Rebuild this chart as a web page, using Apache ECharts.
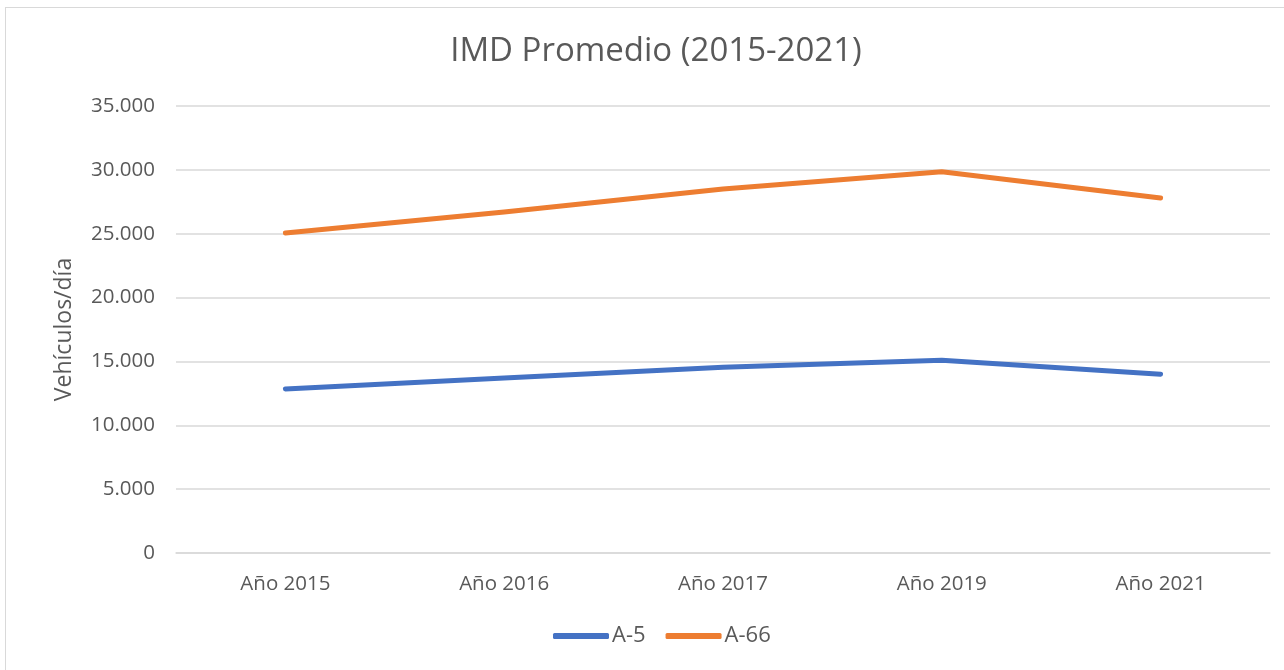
<!DOCTYPE html>
<html>
<head>
<meta charset="utf-8">
<script src="https://cdn.jsdelivr.net/npm/echarts@6/dist/echarts.min.js"></script>
<style>
  html, body { margin: 0; padding: 0; background: #fff; }
  #frame { position: absolute; left: 5px; top: 7px; width: 1290px; height: 680px; border: 1px solid #d9d9d9; box-sizing: border-box; }
  #chart { position: absolute; left: 0; top: 0; width: 1284px; height: 670px; }
</style>
</head>
<body>
<div id="frame"></div>
<div id="chart"></div>
<script>
const categories = ['Año 2015', 'Año 2016', 'Año 2017', 'Año 2019', 'Año 2021'];
const seriesA5 = [12850, 13700, 14550, 15100, 14000];
const seriesA66 = [25050, 26700, 28500, 29850, 27800];
const yTicks = [0, 5000, 10000, 15000, 20000, 25000, 30000, 35000];

const font = '"Open Sans", "Liberation Sans", sans-serif';
const fmt = (v) => v === 0 ? '0' : String(v).replace(/\B(?=(\d{3})+(?!\d))/g, '.');

const chart = echarts.init(document.getElementById('chart'));
chart.setOption({
  animation: false,
  title: {
    text: 'IMD Promedio (2015-2021)',
    left: 651,
    textAlign: 'center',
    top: 30,
    textStyle: { fontFamily: font, fontSize: 33, fontWeight: 'normal', color: '#595959' },
  },
  grid: { left: 176, right: 14, top: 106, bottom: 117 },
  legend: {
    bottom: 18,
    left: 548,
    itemWidth: 56,
    itemHeight: 6,
    itemGap: 20,
    icon: 'roundRect',
    textStyle: { fontFamily: font, fontSize: 22, color: '#595959', padding: [0, 0, 0, -2] },
    data: ['A-5', 'A-66'],
  },
  xAxis: {
    type: 'category',
    data: categories,
    axisLine: { lineStyle: { color: '#d9d9d9', width: 1.5 } },
    axisTick: { show: false },
    axisLabel: { fontFamily: font, fontSize: 20.5, color: '#595959', margin: 21 },
  },
  yAxis: {
    type: 'value',
    min: yTicks[0],
    max: yTicks[yTicks.length - 1],
    interval: 5000,
    name: 'Vehículos/día',
    nameLocation: 'middle',
    nameGap: 100,
    nameTextStyle: { fontFamily: font, fontSize: 23, color: '#595959' },
    axisLine: { show: false },
    axisTick: { show: false },
    splitLine: { lineStyle: { color: '#d9d9d9', width: 1.5 } },
    axisLabel: { fontFamily: font, fontSize: 20.5, color: '#595959', margin: 21, formatter: fmt },
  },
  series: [
    {
      name: 'A-5', type: 'line', data: seriesA5, symbol: 'none',
      color: '#4472c4', lineStyle: { width: 5, cap: 'round', join: 'round' },
    },
    {
      name: 'A-66', type: 'line', data: seriesA66, symbol: 'none',
      color: '#ed7d31', lineStyle: { width: 5, cap: 'round', join: 'round' },
    },
  ],
});
</script>
</body>
</html>
